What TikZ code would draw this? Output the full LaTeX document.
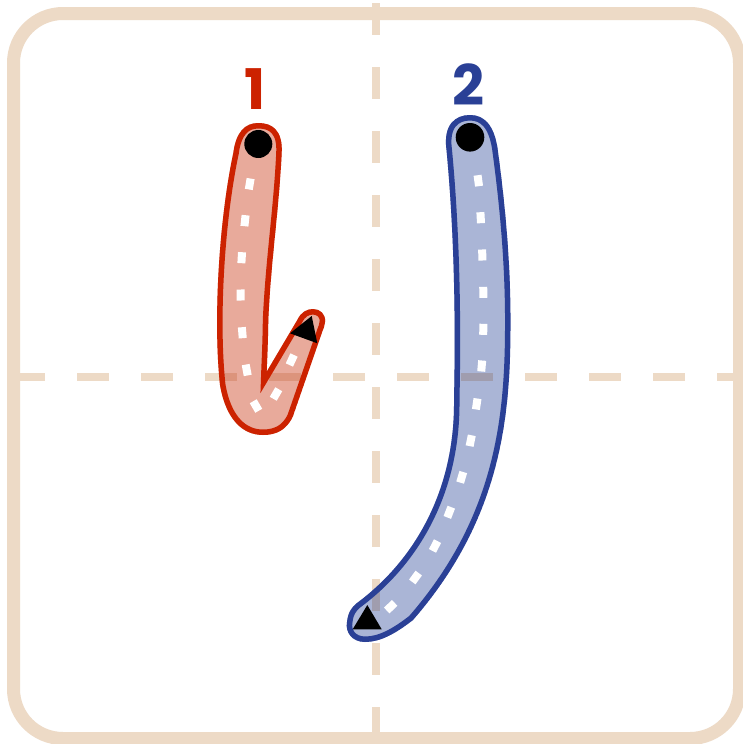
\documentclass[tikz,border=0pt]{standalone}
\usepackage{fontspec}
\newfontfamily\numfont{Poppins}
\definecolor{beige}{HTML}{EDDAC6}
\definecolor{reddark}{HTML}{CC2200}
\definecolor{redlight}{HTML}{E8AA9B}
\definecolor{redmix}{HTML}{DC947C}
\definecolor{bluedark}{HTML}{2A4096}
\definecolor{bluelight}{HTML}{AAB5D6}
\definecolor{bluemix}{HTML}{A09DAE}
% outer edges of the two brush strokes
\def\redshape{(266.7,371.7) -- (297.3,320)
  .. controls (301,312) and (307,309) .. (313,309)
  .. controls (320,309) and (326,314) .. (325,322)
  .. controls (324.5,326) and (323.5,329) .. (322.5,331)
  -- (293,416)
  .. controls (287,430) and (276,435) .. (263,435)
  .. controls (243,435) and (226,420) .. (220,385)
  .. controls (213,320) and (219,220) .. (233.3,153)
  .. controls (236,132) and (245,123) .. (258.3,123)
  .. controls (272,123) and (283,130) .. (281.7,153)
  .. controls (279,210) and (271,260) .. (268.3,320)
  .. controls (268,345) and (267,362) .. (266.7,371.7) -- cycle}
\def\blueshape{(470,115)
  .. controls (485,115) and (494,126) .. (497.5,148)
  .. controls (506,210) and (511,270) .. (510.5,330)
  .. controls (510,420) and (500,520) .. (413,620)
  .. controls (395,634) and (380,642) .. (365,642)
  .. controls (352,642) and (345,632) .. (347,622)
  .. controls (348,612) and (352,607) .. (357,603)
  .. controls (415,560) and (455,490) .. (454,400)
  .. controls (455.5,330) and (455,240) .. (446.5,150)
  .. controls (443,125) and (455,115) .. (470,115) -- cycle}
\def\guidelines#1{%
  \draw[guideline, #1] (376,3) -- (376,744);
  \draw[guideline, #1] (13,376.5) -- (742,376.5);}
\begin{document}
\begin{tikzpicture}[x=1pt,y=-1pt,
  guideline/.style={line width=8pt, dash pattern=on 32pt off 32pt},
  frameline/.style={draw=beige, line width=13pt, rounded corners=49.5pt},
  outline/.style={line width=11pt, line join=miter},
  dotseg/.style={draw=white, line width=8pt},
  numlabel/.style={font=\numfont\bfseries\fontsize{56}{56}\selectfont, inner sep=0pt, anchor=base}]
\useasboundingbox (0,0) rectangle (742,744);
\fill[white] (0,0) rectangle (742,744);
% guides
\guidelines{beige}
% frame
\draw[frameline] (13.5,13.5) rectangle (739.5,738.5);
% stroke 1 (red)
\begin{scope}
  \clip \redshape;
  \fill[redlight] \redshape;
  \guidelines{redmix}
  \draw[outline, draw=reddark] \redshape;
\end{scope}
% stroke 2 (blue)
\begin{scope}
  \clip \blueshape;
  \fill[bluelight] \blueshape;
  \guidelines{bluemix}
  \draw[outline, draw=bluedark] \blueshape;
\end{scope}
% white dotted centre lines, stroke 1
\draw[dotseg] (250.62,178.58) -- (248.78,189.42);
\draw[dotseg] (245.59,215.23) -- (244.41,226.17);
\draw[dotseg] (242.02,252.21) -- (241.38,263.19);
\draw[dotseg] (240.66,289.5) -- (240.74,300.5);
\draw[dotseg] (241.86,327.22) -- (242.74,338.18);
\draw[dotseg] (245.69,364.59) -- (247.71,375.41);
\draw[dotseg] (253.25,401.24) -- (258.75,410.76);
\draw[dotseg] (273.25,398.76) -- (278.75,389.24);
\draw[dotseg] (289.39,364.99) -- (294.01,355.01);
% white dotted centre lines, stroke 2
\draw[dotseg] (477.57,175.25) -- (479.03,186.15);
\draw[dotseg] (480.4,212.21) -- (481.0,223.19);
\draw[dotseg] (482.11,249.5) -- (482.49,260.5);
\draw[dotseg] (483.22,286.8) -- (483.38,297.8);
\draw[dotseg] (483.42,323.8) -- (483.18,334.8);
\draw[dotseg] (482.18,360.52) -- (481.22,371.48);
\draw[dotseg] (477.5,398.56) -- (475.9,409.44);
\draw[dotseg] (471.81,435.31) -- (469.59,446.09);
\draw[dotseg] (463.27,472.03) -- (460.13,482.57);
\draw[dotseg] (451.29,507.17) -- (447.31,517.43);
\draw[dotseg] (437.53,541.12) -- (432.47,550.88);
\draw[dotseg] (418.74,573.06) -- (412.26,581.94);
\draw[dotseg] (394.67,602.89) -- (386.73,610.51);
% start dots and end arrowheads
\fill[black] (258.3,144) circle[radius=14pt];
\fill[black] (290,333.3) -- (311.7,316) -- (317.3,343.3) -- cycle;
\fill[black] (470,137.3) circle[radius=14.3pt];
\fill[black] (352.7,629.3) -- (367.3,605) -- (381.7,629.3) -- cycle;
% stroke numbers
\node[numlabel, text=reddark] (n1) at (255.5,109) {1};
\node[numlabel, text=bluedark] (n2) at (468.3,105) {2};
\end{tikzpicture}
\end{document}
